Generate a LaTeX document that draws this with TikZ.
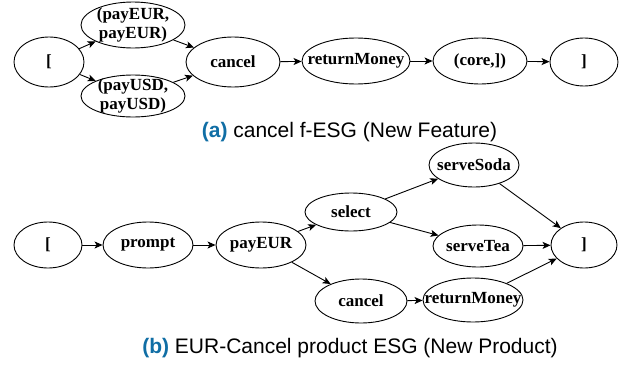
\documentclass[tikz,border=0pt]{standalone}
\usepackage{fontspec}
\setmainfont{Liberation Serif}
\setsansfont{Liberation Sans}
\usetikzlibrary{shapes.geometric,arrows.meta}
\definecolor{capblue}{RGB}{16,110,165}
\begin{document}
\begin{tikzpicture}[x=1pt,y=-1pt,
  ev/.style={ellipse,draw,line width=0.9pt,inner sep=0pt},
  lab/.style={inner sep=0pt,font=\bfseries\fontsize{17}{19}\selectfont,align=center},
  conn/.style={-{Stealth[length=8pt,width=7pt,inset=2pt]},line width=0.9pt},
  captext/.style={font=\sffamily\fontsize{21}{25}\selectfont}]
\useasboundingbox (0,0) rectangle (626,364);
% (a)
\node[ev,minimum width=70,minimum height=50,label={[lab]center:[}] (a1) at (49,62) {};
\node[ev,minimum width=104,minimum height=46,label={[lab]center:{(payEUR,\\payEUR)}}] (a2) at (133,25) {};
\node[ev,minimum width=104,minimum height=42,label={[lab]center:{(payUSD,\\payUSD)}}] (a3) at (133,96) {};
\node[ev,minimum width=94,minimum height=50,label={[lab]center:cancel}] (a4) at (233,62) {};
\node[ev,minimum width=108,minimum height=46,label={[lab]center:returnMoney}] (a5) at (356,61) {};
\node[ev,minimum width=94,minimum height=46,label={[lab]center:{(core,])}}] (a6) at (480,61) {};
\node[ev,minimum width=68,minimum height=48,label={[lab]center:{]}}] (a7) at (584,62) {};
\draw[conn] (a1) -- (a2);
\draw[conn] (a1) -- (a3);
\draw[conn] (a2) -- (a4);
\draw[conn] (a3) -- (a4);
\draw[conn] (a4) -- (a5);
\draw[conn] (a5) -- (a6);
\draw[conn] (a6) -- (a7);
\node[captext] (capa) at (349.5,132) {\textbf{\color{capblue}(a)} cancel f-ESG (New Feature)};
% (b)
\node[ev,minimum width=68,minimum height=46,label={[lab]center:[}] (b1) at (48,245) {};
\node[ev,minimum width=90,minimum height=46,label={[lab]center:prompt}] (b2) at (148,245) {};
\node[ev,minimum width=90,minimum height=46,label={[lab]center:payEUR}] (b3) at (261,245) {};
\node[ev,minimum width=92,minimum height=38,label={[lab]center:select}] (b4) at (351,212) {};
\node[ev,minimum width=90,minimum height=44,label={[lab]center:serveSoda}] (b5) at (474,165) {};
\node[ev,minimum width=90,minimum height=42,label={[lab]center:serveTea}] (b6) at (478,246) {};
\node[ev,minimum width=66,minimum height=46,label={[lab]center:{]}}] (b7) at (584,245) {};
\node[ev,minimum width=92,minimum height=44,label={[lab]center:cancel}] (b8) at (361,301) {};
\node[ev,minimum width=100,minimum height=44,label={[lab]center:returnMoney}] (b9) at (473,300) {};
\draw[conn] (b1) -- (b2);
\draw[conn] (b2) -- (b3);
\draw[conn] (b3) -- (b4);
\draw[conn] (b3) -- (b8);
\draw[conn] (b4) -- (b5);
\draw[conn] (b4) -- (b6);
\draw[conn] (b5) -- (b7);
\draw[conn] (b6) -- (b7);
\draw[conn] (b8) -- (b9);
\draw[conn] (b9) -- (b7);
\node[captext] (capb) at (350,348) {\textbf{\color{capblue}(b)} EUR-Cancel product ESG (New Product)};
\end{tikzpicture}
\end{document}
